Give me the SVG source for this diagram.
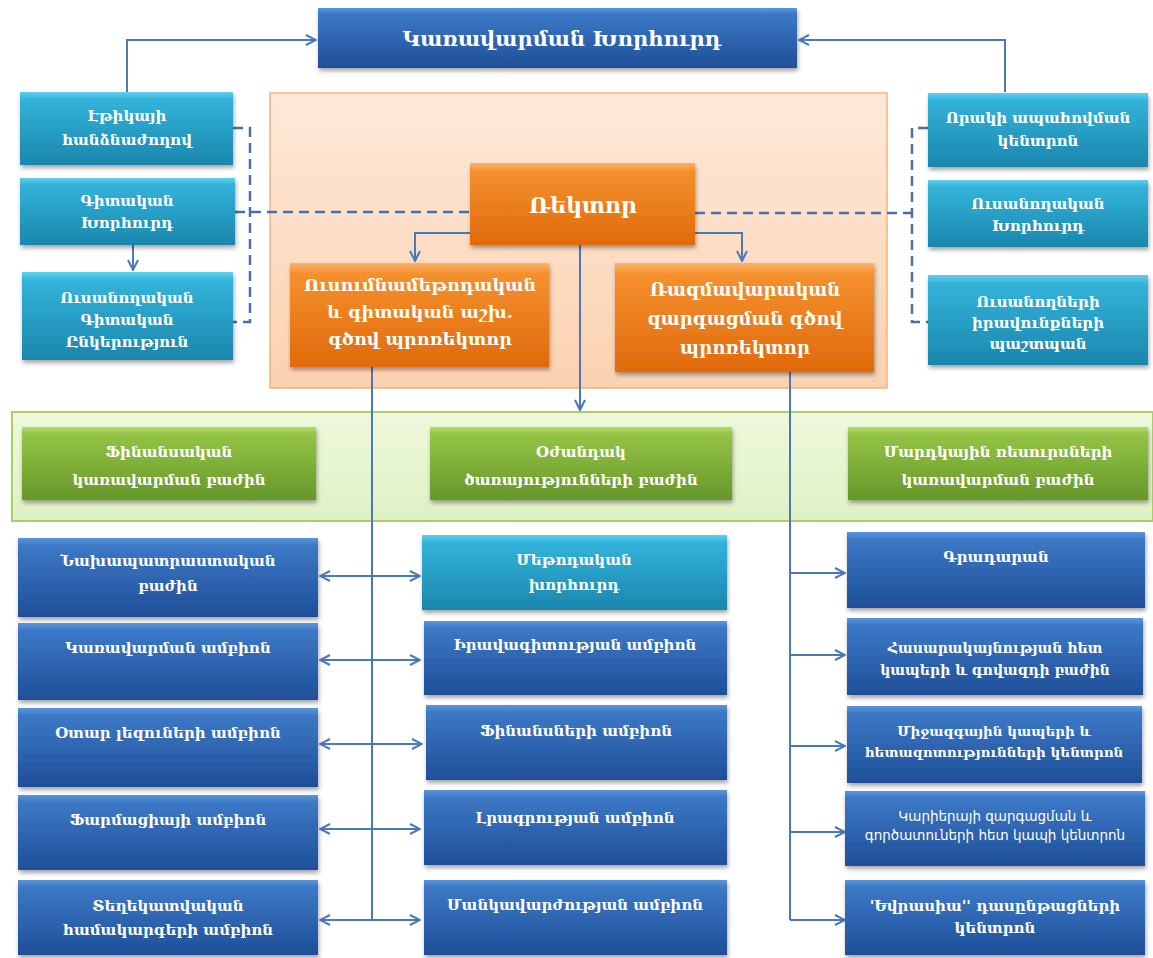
<svg xmlns="http://www.w3.org/2000/svg" width="1153" height="958" viewBox="0 0 1153 958">
<defs>
<linearGradient id="gBlue" x1="0" y1="0" x2="0" y2="1"><stop offset="0" stop-color="#5a95dc"/><stop offset="0.1" stop-color="#3c78c6"/><stop offset="1" stop-color="#1f4f98"/></linearGradient>
<linearGradient id="gCyan" x1="0" y1="0" x2="0" y2="1"><stop offset="0" stop-color="#5fd0ee"/><stop offset="0.1" stop-color="#33b3da"/><stop offset="1" stop-color="#1b86ad"/></linearGradient>
<linearGradient id="gOrange" x1="0" y1="0" x2="0" y2="1"><stop offset="0" stop-color="#fbb36a"/><stop offset="0.1" stop-color="#f5902e"/><stop offset="1" stop-color="#e06a0c"/></linearGradient>
<linearGradient id="gGreen" x1="0" y1="0" x2="0" y2="1"><stop offset="0" stop-color="#b6dc6c"/><stop offset="0.1" stop-color="#94c445"/><stop offset="1" stop-color="#66972a"/></linearGradient>
<linearGradient id="gPeach" x1="0" y1="0" x2="0" y2="1"><stop offset="0" stop-color="#fde9da"/><stop offset="1" stop-color="#fbd2b0"/></linearGradient>
<linearGradient id="gLime" x1="0" y1="0" x2="0" y2="1"><stop offset="0" stop-color="#eef8dc"/><stop offset="1" stop-color="#e0f1c4"/></linearGradient>
<filter id="sh" x="-10%" y="-10%" width="125%" height="135%"><feDropShadow dx="1" dy="3" stdDeviation="2" flood-color="#000" flood-opacity="0.35"/></filter>
<marker id="ar" viewBox="0 0 12 12" refX="11" refY="6" markerWidth="12" markerHeight="12" markerUnits="userSpaceOnUse" orient="auto-start-reverse"><path d="M1,1 L11,6 L1,11" fill="none" stroke="#4a78b8" stroke-width="2"/></marker>
</defs>
<style>
.blue{fill:url(#gBlue);filter:url(#sh)}
.cyan{fill:url(#gCyan);filter:url(#sh)}
.orange{fill:url(#gOrange);filter:url(#sh)}
.green{fill:url(#gGreen);filter:url(#sh)}
text{font-family:"DejaVu Serif","DejaVu Sans",serif;font-weight:bold;fill:#ffffff;text-anchor:middle;font-size:15px}
.big{font-size:21px}
.rec{font-size:22px}
.vr{font-size:17.5px}
.vr2{font-size:18px}
.m{font-size:14px}
.s{font-size:13.5px}
.sans{font-family:"DejaVu Sans",sans-serif;font-weight:normal;font-size:13.5px}
.ln{fill:none;stroke:#4a78b8;stroke-width:2}
.dash{fill:none;stroke:#4a6fa8;stroke-width:2.5;stroke-dasharray:10 6}
</style>
<rect x="270" y="93" width="617" height="295" fill="url(#gPeach)" stroke="#f6b27a" stroke-width="1.5"/>
<rect x="12" y="412" width="1141" height="109" fill="url(#gLime)" stroke="#a6cf6a" stroke-width="2"/>

<g id="connectors">
<polyline class="ln" points="127,92 127,40 316,40" marker-end="url(#ar)"/>
<polyline class="ln" points="1005,92 1005,40 799,40" marker-end="url(#ar)"/>
<line class="ln" x1="133" y1="245" x2="133" y2="270" marker-end="url(#ar)"/>
<polyline class="dash" points="233,128 250,128 250,322 233,322"/>
<line class="dash" x1="235" y1="212" x2="470" y2="212"/>
<polyline class="dash" points="928,128 912,128 912,322 928,322"/>
<line class="dash" x1="695" y1="213" x2="912" y2="213"/>
<polyline class="ln" points="470,233 415,233 415,261" marker-end="url(#ar)"/>
<polyline class="ln" points="695,233 742,233 742,261" marker-end="url(#ar)"/>
<line class="ln" x1="580" y1="245" x2="580" y2="410" marker-end="url(#ar)"/>
<line class="ln" x1="372" y1="367" x2="372" y2="920"/>
<line class="ln" x1="320" y1="576" x2="420" y2="576" marker-start="url(#ar)" marker-end="url(#ar)"/>
<line class="ln" x1="320" y1="660" x2="420" y2="660" marker-start="url(#ar)" marker-end="url(#ar)"/>
<line class="ln" x1="320" y1="744" x2="422" y2="744" marker-start="url(#ar)" marker-end="url(#ar)"/>
<line class="ln" x1="320" y1="829" x2="420" y2="829" marker-start="url(#ar)" marker-end="url(#ar)"/>
<line class="ln" x1="320" y1="920" x2="420" y2="920" marker-start="url(#ar)" marker-end="url(#ar)"/>
<line class="ln" x1="790" y1="372" x2="790" y2="920"/>
<line class="ln" x1="790" y1="573" x2="845" y2="573" marker-end="url(#ar)"/>
<line class="ln" x1="790" y1="655" x2="845" y2="655" marker-end="url(#ar)"/>
<line class="ln" x1="790" y1="746" x2="845" y2="746" marker-end="url(#ar)"/>
<line class="ln" x1="790" y1="832" x2="845" y2="832" marker-end="url(#ar)"/>
<line class="ln" x1="790" y1="920" x2="845" y2="920" marker-end="url(#ar)"/>
</g>

<g id="board"><rect class="blue" x="318" y="8" width="479" height="60"/><text class="big" x="562" y="46">Կառավարման Խորհուրդ</text></g>

<g id="ethics"><rect class="cyan" x="20" y="92" width="213" height="73"/><text x="127" y="121">Էթիկայի<tspan x="127" dy="24">հանձնաժողով</tspan></text></g>
<g id="sci-council"><rect class="cyan" x="20" y="178" width="215" height="67"/><text x="127" y="206">Գիտական<tspan x="127" dy="22">Խորհուրդ</tspan></text></g>
<g id="student-sci"><rect class="cyan" x="22" y="272" width="211" height="88"/><text x="127" y="303">Ուսանողական<tspan x="127" dy="22">Գիտական</tspan><tspan x="127" dy="22">Ընկերություն</tspan></text></g>

<g id="quality"><rect class="cyan" x="928" y="93" width="220" height="74"/><text x="1038" y="123">Որակի ապահովման<tspan x="1038" dy="23">կենտրոն</tspan></text></g>
<g id="student-council"><rect class="cyan" x="928" y="180" width="220" height="67"/><text x="1038" y="209">Ուսանողական<tspan x="1038" dy="22">Խորհուրդ</tspan></text></g>
<g id="ombudsman"><rect class="cyan" x="928" y="275" width="220" height="90"/><text x="1038" y="307">Ուսանողների<tspan x="1038" dy="21">իրավունքների</tspan><tspan x="1038" dy="21">պաշտպան</tspan></text></g>

<g id="rector"><rect class="orange" x="470" y="163" width="225" height="82"/><text class="rec" x="583" y="213">Ռեկտոր</text></g>
<g id="vr-edu"><rect class="orange" x="290" y="263" width="259" height="104"/><text class="vr" x="420" y="291">Ուսումնամեթոդական<tspan x="420" dy="27">և գիտական աշխ.</tspan><tspan x="420" dy="27">գծով պրոռեկտոր</tspan></text></g>
<g id="vr-strat"><rect class="orange" x="615" y="263" width="259" height="109"/><text class="vr2" x="745" y="296">Ռազմավարական<tspan x="745" dy="29">զարգացման գծով</tspan><tspan x="745" dy="29">պրոռեկտոր</tspan></text></g>

<g id="fin-dept"><rect class="green" x="22" y="427" width="294" height="73"/><text x="169" y="457">Ֆինանսական<tspan x="169" dy="28">կառավարման բաժին</tspan></text></g>
<g id="support-dept"><rect class="green" x="430" y="427" width="302" height="73"/><text x="581" y="457">Օժանդակ<tspan x="581" dy="28">ծառայությունների բաժին</tspan></text></g>
<g id="hr-dept"><rect class="green" x="848" y="427" width="300" height="73"/><text x="998" y="457">Մարդկային ռեսուրսների<tspan x="998" dy="28">կառավարման բաժին</tspan></text></g>

<g id="prep"><rect class="blue" x="18" y="538" width="300" height="79"/><text x="168" y="566">Նախապատրաստական<tspan x="168" dy="25">բաժին</tspan></text></g>
<g id="mgmt"><rect class="blue" x="18" y="623" width="300" height="77"/><text x="168" y="653">Կառավարման ամբիոն</text></g>
<g id="lang"><rect class="blue" x="18" y="708" width="300" height="79"/><text x="168" y="738">Օտար լեզուների ամբիոն</text></g>
<g id="pharm"><rect class="blue" x="18" y="795" width="300" height="75"/><text x="168" y="825">Ֆարմացիայի ամբիոն</text></g>
<g id="infosys"><rect class="blue" x="18" y="880" width="300" height="75"/><text x="168" y="911">Տեղեկատվական<tspan x="168" dy="24">համակարգերի ամբիոն</tspan></text></g>

<g id="method"><rect class="cyan" x="422" y="535" width="305" height="75"/><text x="574" y="565">Մեթոդական<tspan x="574" dy="25">խորհուրդ</tspan></text></g>
<g id="law"><rect class="blue" x="424" y="621" width="303" height="74"/><text x="575" y="650">Իրավագիտության ամբիոն</text></g>
<g id="finance"><rect class="blue" x="426" y="705" width="301" height="75"/><text x="576" y="736">Ֆինանսների ամբիոն</text></g>
<g id="journ"><rect class="blue" x="424" y="790" width="303" height="75"/><text x="575" y="823">Լրագրության ամբիոն</text></g>
<g id="pedag"><rect class="blue" x="424" y="880" width="303" height="75"/><text x="575" y="910">Մանկավարժության ամբիոն</text></g>

<g id="library"><rect class="blue" x="847" y="532" width="298" height="76"/><text x="996" y="562">Գրադարան</text></g>
<g id="pr"><rect class="blue" x="847" y="618" width="296" height="77"/><text class="m" x="995" y="653">Հասարակայնության հետ<tspan x="995" dy="22">կապերի և գովազդի բաժին</tspan></text></g>
<g id="intl"><rect class="blue" x="847" y="706" width="295" height="77"/><text class="s" x="994" y="736">Միջազգային կապերի և<tspan x="994" dy="21">հետազոտությունների կենտրոն</tspan></text></g>
<g id="career"><rect class="blue" x="845" y="791" width="300" height="75"/><text class="sans" x="995" y="821">Կարիերայի զարգացման և<tspan x="995" dy="19">գործատուների հետ կապի կենտրոն</tspan></text></g>
<g id="eurasia"><rect class="blue" x="845" y="880" width="300" height="75"/><text x="995" y="911">'Եվրասիա'' դասընթացների<tspan x="995" dy="22">կենտրոն</tspan></text></g>
</svg>
